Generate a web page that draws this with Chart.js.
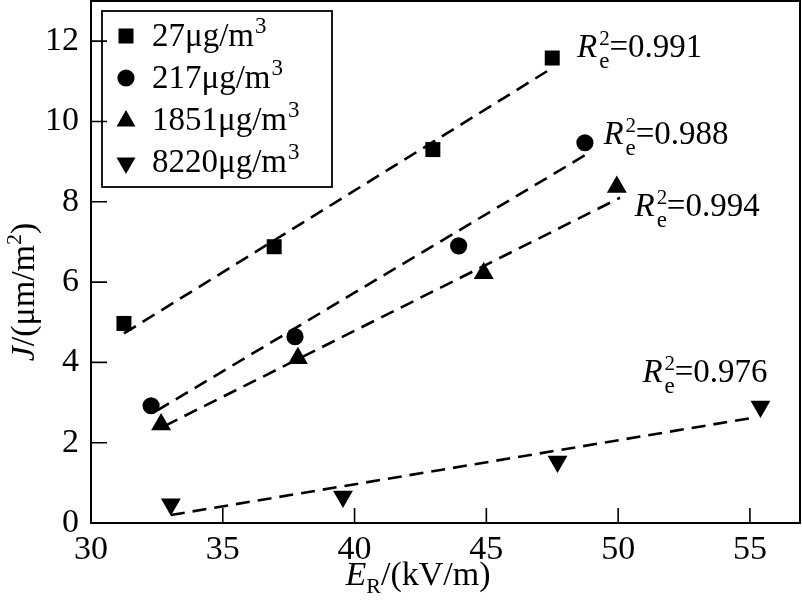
<!DOCTYPE html>
<html>
<head>
<meta charset="utf-8">
<script src="https://cdn.jsdelivr.net/npm/chart.js@4.4.1/dist/chart.umd.min.js"></script>
<style>
html,body{margin:0;padding:0;background:#fff;}
#wrap{width:802px;height:605px;position:relative;}
</style>
</head>
<body>
<div id="wrap"><canvas id="c" width="802" height="605"></canvas></div>
<script>
// ---- data ----
const seriesNames = ['27μg/m³', '217μg/m³', '1851μg/m³', '8220μg/m³'];
const sqX = [31.25, 36.95, 42.97, 47.5];
const sqY = [4.97, 6.88, 9.3, 11.58];
const ciX = [32.28, 37.74, 43.95, 48.74];
const ciY = [2.92, 4.64, 6.9, 9.47];
const trX = [32.66, 37.85, 44.9, 49.95];
const trY = [2.45, 4.1, 6.22, 8.37];
const itX = [33.03, 39.56, 47.7, 55.4];
const itY = [0.47, 0.66, 1.53, 2.9];
// fitted lines (endpoints)
const fitSqX = [31.25, 47.3];   const fitSqY = [4.72, 11.25];
const fitCiX = [32.5, 48.9];    const fitCiY = [2.8, 9.22];
const fitTrX = [32.8, 50.07];   const fitTrY = [2.42, 8.1];
const fitItX = [33.03, 55.2];   const fitItY = [0.2, 2.63];
// R² annotations
const r2Values = ['0.991', '0.988', '0.994', '0.976'];
const r2X = [48.44, 49.44, 50.62, 50.92];
const r2Y = [11.61, 9.44, 7.65, 3.51];
const xTicks = [30, 35, 40, 45, 50, 55];
const yTicks = [0, 2, 4, 6, 8, 10, 12];

const pts = (xs, ys) => xs.map((x, i) => ({x: x, y: ys[i]}));
const SERIF = "'Liberation Serif','DejaVu Serif',serif";

const pointStyles = ['rect', 'circle', 'triangle', 'triangle'];
const pointRadii = [10.6, 8.6, 11.5, 11.5];
const pointRots = [0, 0, 0, 180];
const ptX = [sqX, ciX, trX, itX], ptY = [sqY, ciY, trY, itY];
const fX = [fitSqX, fitCiX, fitTrX, fitItX], fY = [fitSqY, fitCiY, fitTrY, fitItY];

const datasets = [];
for (let i = 0; i < 4; i++) {
  datasets.push({
    label: seriesNames[i] + ' fit',
    data: pts(fX[i], fY[i]),
    showLine: true, borderColor: '#000', borderWidth: 2.6,
    borderDash: [14, 8], pointRadius: 0, fill: false, order: 2
  });
}
for (let i = 0; i < 4; i++) {
  datasets.push({
    label: seriesNames[i],
    data: pts(ptX[i], ptY[i]),
    showLine: false, pointStyle: pointStyles[i], pointRadius: pointRadii[i],
    pointRotation: pointRots[i], backgroundColor: '#000', borderColor: '#000',
    borderWidth: 0, pointHoverRadius: pointRadii[i], order: 1
  });
}

function drawMarker(ctx, style, x, y, r, rot) {
  ctx.save();
  ctx.fillStyle = '#000';
  ctx.beginPath();
  if (style === 'rect') {
    const s = Math.SQRT1_2 * r;
    ctx.rect(x - s, y - s, 2 * s, 2 * s);
  } else if (style === 'circle') {
    ctx.arc(x, y, r, 0, Math.PI * 2);
  } else {
    let a = rot * Math.PI / 180;
    ctx.moveTo(x + Math.sin(a) * r, y - Math.cos(a) * r);
    a += 2 * Math.PI / 3;
    ctx.lineTo(x + Math.sin(a) * r, y - Math.cos(a) * r);
    a += 2 * Math.PI / 3;
    ctx.lineTo(x + Math.sin(a) * r, y - Math.cos(a) * r);
    ctx.closePath();
  }
  ctx.fill();
  ctx.restore();
}

const noPad = s => { s.paddingTop = 0; s.paddingBottom = 0; s.paddingLeft = 0; s.paddingRight = 0; };

const deco = {
  id: 'deco',
  afterDraw(chart) {
    const ctx = chart.ctx, a = chart.chartArea;
    const xs = chart.scales.x, ys = chart.scales.y;
    ctx.save();
    // frame
    ctx.strokeStyle = '#000'; ctx.lineWidth = 2;
    ctx.strokeRect(a.left, a.top, a.right - a.left, a.bottom - a.top);
    // inward ticks
    ctx.lineWidth = 1.6;
    ctx.beginPath();
    xTicks.forEach(v => { const p = xs.getPixelForValue(v); ctx.moveTo(p, a.bottom); ctx.lineTo(p, a.bottom - 15); });
    yTicks.forEach(v => { const p = ys.getPixelForValue(v); ctx.moveTo(a.left, p); ctx.lineTo(a.left + 16, p); });
    ctx.stroke();

    // legend
    ctx.lineWidth = 1.8;
    ctx.strokeRect(102, 11, 230, 176);
    ctx.fillStyle = '#000';
    ctx.textBaseline = 'alphabetic';
    ctx.textAlign = 'left';
    for (let i = 0; i < 4; i++) {
      const cy = 36 + i * 42;
      drawMarker(ctx, pointStyles[i], 126, cy + (i >= 2 ? 1 : 0), pointRadii[i] * (i >= 2 ? 0.95 : 1), pointRots[i]);
      const name = seriesNames[i];
      const base = name.endsWith('³') ? name.slice(0, -1) : name;
      ctx.font = '33px ' + SERIF;
      ctx.fillText(base, 152, cy + 10);
      if (base !== name) {
        const w = ctx.measureText(base).width;
        ctx.font = '23px ' + SERIF;
        ctx.fillText('3', 152 + w + 1, cy - 3);
      }
    }

    // R² labels
    for (let i = 0; i < 4; i++) {
      const x = xs.getPixelForValue(r2X[i]), y = ys.getPixelForValue(r2Y[i]);
      ctx.font = 'italic 33px ' + SERIF;
      ctx.fillText('R', x, y);
      const rw = ctx.measureText('R').width;
      ctx.font = '21px ' + SERIF;
      ctx.fillText('2', x + rw + 2, y - 12);
      ctx.font = '23px ' + SERIF;
      ctx.fillText('e', x + rw + 2, y + 11);
      const sw = ctx.measureText('e').width;
      ctx.font = '33px ' + SERIF;
      ctx.fillText('=' + r2Values[i], x + rw + sw + 2, y);
    }

    // x axis title: E_R/(kV/m)
    {
      const parts = [['E', 'italic 34px ', 0], ['R', '22px ', 8], ['/(kV/m)', '34px ', 0]];
      let total = 0;
      parts.forEach(p => { ctx.font = p[1] + SERIF; total += ctx.measureText(p[0]).width; });
      let x = 418 - total / 2;
      const by = 585;
      parts.forEach(p => { ctx.font = p[1] + SERIF; ctx.fillText(p[0], x, by + p[2]); x += ctx.measureText(p[0]).width; });
    }
    // y axis title: J/(μm/m²)
    {
      ctx.translate(34, 292);
      ctx.rotate(-Math.PI / 2);
      const parts = [['J', 'italic 34px ', 0], ['/(μm/m', '34px ', 0], ['2', '22px ', -13], [')', '34px ', 0]];
      let total = 0;
      parts.forEach(p => { ctx.font = p[1] + SERIF; total += ctx.measureText(p[0]).width; });
      let x = -total / 2;
      parts.forEach(p => { ctx.font = p[1] + SERIF; ctx.fillText(p[0], x, p[2]); x += ctx.measureText(p[0]).width; });
    }
    ctx.restore();
  }
};

new Chart(document.getElementById('c'), {
  type: 'scatter',
  data: { datasets: datasets },
  options: {
    responsive: false, animation: false,
    layout: { autoPadding: false, padding: { top: 1, right: 2, left: 0, bottom: 0 } },
    plugins: { legend: { display: false }, tooltip: { enabled: false } },
    scales: {
      x: {
        type: 'linear', min: 30, max: 56.9,
        afterBuildTicks: s => { s.ticks = xTicks.map(v => ({value: v})); },
        afterFit: s => { s.height = 82; noPad(s); },
        grid: { display: false, drawTicks: false },
        border: { display: false },
        ticks: { padding: 7, color: '#000', font: { family: SERIF, size: 34 }, maxRotation: 0, autoSkip: false }
      },
      y: {
        type: 'linear', min: 0, max: 13,
        afterBuildTicks: s => { s.ticks = yTicks.map(v => ({value: v})); },
        afterFit: s => { s.width = 91; noPad(s); },
        grid: { display: false, drawTicks: false },
        border: { display: false },
        ticks: { padding: 12, color: '#000', font: { family: SERIF, size: 34 }, autoSkip: false }
      }
    }
  },
  plugins: [deco]
});
</script>
</body>
</html>
